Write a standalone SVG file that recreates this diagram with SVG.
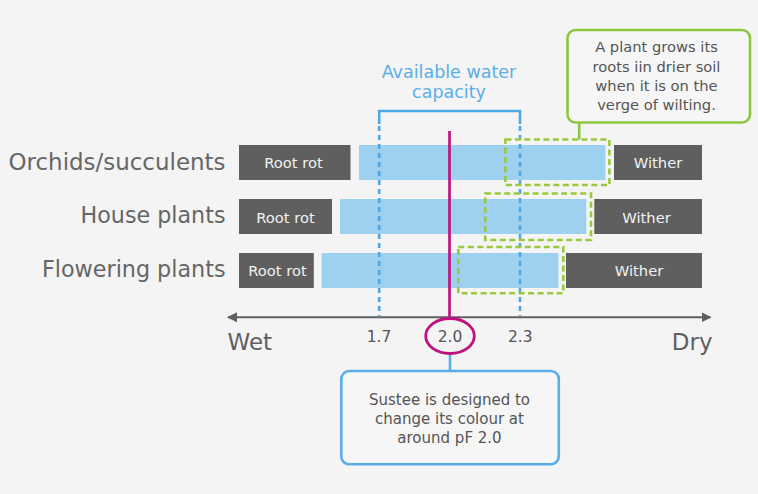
<svg xmlns="http://www.w3.org/2000/svg" width="758" height="494" viewBox="0 0 758 494">
<defs>
<style>
text{font-family:"DejaVu Sans","Liberation Sans",sans-serif;}
.lbl{font-size:23px;fill:#666666;text-anchor:end;}
.box{fill:#5f5f5f;}
.boxt{font-size:14.7px;fill:#f2f2f2;text-anchor:middle;}
.bar{fill:#9dd1ef;}
.gdash{fill:none;stroke:#9cc83c;stroke-width:2.6;stroke-dasharray:6 3.5;}
.bdash{fill:none;stroke:#4fa8e6;stroke-width:2.6;stroke-dasharray:5 4;}
.num{font-size:15.5px;fill:#555555;text-anchor:middle;}
.note{font-size:14.7px;fill:#555555;text-anchor:middle;}
.noteb{font-size:15px;fill:#555555;text-anchor:middle;}
</style>
<marker id="ah" viewBox="0 0 10 10" refX="9" refY="5" markerWidth="5" markerHeight="5" orient="auto-start-reverse" markerUnits="strokeWidth">
<path d="M0,0 L10,5 L0,10 z" fill="#606060"/>
</marker>
</defs>
<rect x="0" y="0" width="758" height="494" fill="#f4f4f4"/>

<g id="row-orchids">
<text class="lbl" x="225.5" y="170" textLength="217" lengthAdjust="spacingAndGlyphs">Orchids/succulents</text>
<rect class="box" x="239" y="145" width="111.5" height="35"/>
<text class="boxt" x="293.5" y="168.3">Root rot</text>
<rect class="bar" x="359" y="145" width="246.5" height="35"/>
<rect class="box" x="614" y="145" width="88" height="35"/>
<text class="boxt" x="658" y="168.3">Wither</text>
</g>

<g id="row-house">
<text class="lbl" x="225.5" y="223.3" textLength="145" lengthAdjust="spacingAndGlyphs">House plants</text>
<rect class="box" x="239" y="199" width="93" height="35"/>
<text class="boxt" x="285.5" y="222.5">Root rot</text>
<rect class="bar" x="340" y="199" width="246.3" height="35"/>
<rect class="box" x="594.3" y="199" width="107.7" height="35"/>
<text class="boxt" x="646.5" y="222.5">Wither</text>
</g>

<g id="row-flowering">
<text class="lbl" x="225.5" y="276.7" textLength="183.5" lengthAdjust="spacingAndGlyphs">Flowering plants</text>
<rect class="box" x="239" y="253" width="74.8" height="35"/>
<text class="boxt" x="277.5" y="275.5">Root rot</text>
<rect class="bar" x="321.6" y="253" width="236.7" height="35"/>
<rect class="box" x="566" y="253" width="136" height="35"/>
<text class="boxt" x="639" y="275.5">Wither</text>
</g>

<g id="available-water-capacity">
<text x="449" y="78" font-size="17.5" fill="#5aaee8" text-anchor="middle">Available water</text>
<text x="449" y="98" font-size="17.5" fill="#5aaee8" text-anchor="middle">capacity</text>
</g>

<g id="connectors">
<path d="M379.2,124 V111 H520 V124" fill="none" stroke="#4fa8e6" stroke-width="2.6"/>
<line class="bdash" x1="379.2" y1="126" x2="379.2" y2="316"/>
<line class="bdash" x1="520" y1="126" x2="520" y2="316"/>
<rect class="gdash" x="505.4" y="139.5" width="104" height="45.5"/>
<rect class="gdash" x="485.2" y="193.5" width="105.8" height="46.5"/>
<rect class="gdash" x="458.3" y="247" width="105" height="46.3"/>
<line x1="579.2" y1="122" x2="579.2" y2="139.5" stroke="#8dc63f" stroke-width="2.6"/>
<line x1="449.5" y1="131" x2="449.5" y2="318.5" stroke="#c0127f" stroke-width="2.7"/>
<line x1="228" y1="317.3" x2="710.5" y2="317.3" stroke="#606060" stroke-width="2" marker-start="url(#ah)" marker-end="url(#ah)"/>
<line x1="450" y1="353.5" x2="450" y2="371" stroke="#5aaee8" stroke-width="2.6"/>
</g>

<g id="axis-labels">
<text x="227.5" y="350" font-size="23" fill="#5f5f5f">Wet</text>
<text x="712.5" y="350" font-size="23" fill="#5f5f5f" text-anchor="end">Dry</text>
<text class="num" x="379" y="341.7">1.7</text>
<text class="num" x="520.3" y="341.7">2.3</text>
</g>

<g id="pf-marker">
<ellipse cx="450" cy="336" rx="24.3" ry="17.5" fill="none" stroke="#c0127f" stroke-width="2.8"/>
<text class="num" x="450" y="341.7">2.0</text>
</g>

<g id="note-green">
<rect x="567.5" y="30" width="182.5" height="92.5" rx="8" ry="8" fill="#f6f6f6" stroke="#8dc63f" stroke-width="2.6"/>
<text class="note" x="656.5" y="52.3">A plant grows its</text>
<text class="note" x="656.5" y="71.5">roots iin drier soil</text>
<text class="note" x="656.5" y="90.7">when it is on the</text>
<text class="note" x="656.5" y="110">verge of wilting.</text>
</g>

<g id="note-blue">
<rect x="341.3" y="371" width="217.5" height="93.3" rx="8" ry="8" fill="#f6f6f6" stroke="#5aaee8" stroke-width="2.6"/>
<text class="noteb" x="449.5" y="405">Sustee is designed to</text>
<text class="noteb" x="449.5" y="424">change its colour at</text>
<text class="noteb" x="449.5" y="443">around pF 2.0</text>
</g>
</svg>
